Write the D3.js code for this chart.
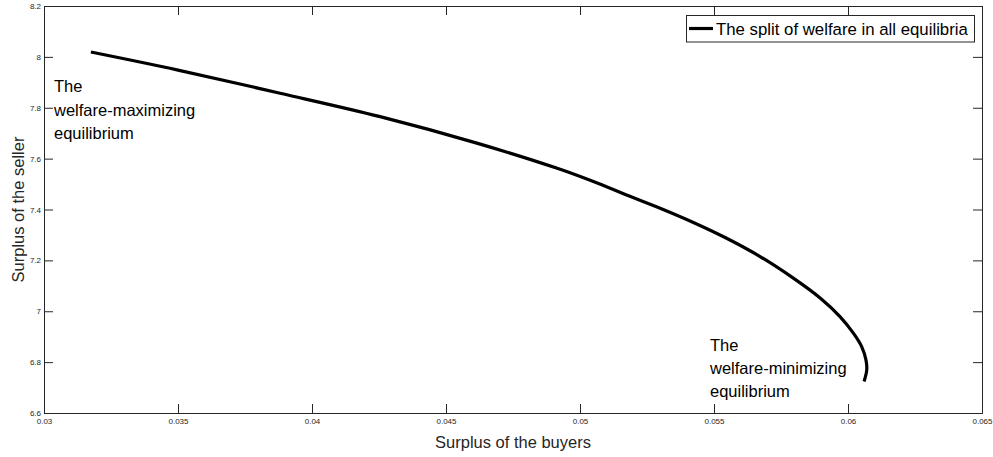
<!DOCTYPE html>
<html>
<head>
<meta charset="utf-8">
<script src="https://cdn.jsdelivr.net/npm/d3@7"></script>
<style>
  html, body { margin: 0; padding: 0; background: #fff; }
  svg { display: block; font-family: "Liberation Sans", Arial, Helvetica, sans-serif; }
</style>
</head>
<body>
<svg id="chart" width="993" height="457"></svg>
<script>
// Buyer surplus vs. seller surplus along the equilibrium set
const buyerSurplus = [0.03175, 0.0350, 0.03881, 0.04254, 0.04615, 0.04915, 0.05050, 0.05174,
                      0.05299, 0.05423, 0.05547, 0.05672, 0.05796, 0.05896, 0.05970, 0.06020,
                      0.06051, 0.06067, 0.06070, 0.06060];
const sellerSurplus = [8.019, 7.948, 7.857, 7.765, 7.661, 7.562, 7.510, 7.457,
                       7.405, 7.349, 7.287, 7.215, 7.130, 7.052, 6.979, 6.914,
                       6.861, 6.809, 6.770, 6.724];

const xTicks = [0.03, 0.035, 0.04, 0.045, 0.05, 0.055, 0.06, 0.065];
const yTicks = [6.6, 6.8, 7, 7.2, 7.4, 7.6, 7.8, 8, 8.2];

const seriesName = "The split of welfare in all equilibria";
const maxLabel = ["The", "welfare-maximizing", "equilibrium"];
const minLabel = ["The", "welfare-minimizing", "equilibrium"];
const xTitle = "Surplus of the buyers";
const yTitle = "Surplus of the seller";

const svg = d3.select("#chart");
const plotLeft = 44, plotRight = 982, plotTop = 6, plotBottom = 413;

const x = d3.scaleLinear().domain([0.03, 0.065]).range([plotLeft, plotRight]);
const y = d3.scaleLinear().domain([6.6, 8.2]).range([plotBottom, plotTop]);

const axisColor = "#262626";
const tickLen = 9;

function styleAxis(g) {
  g.selectAll(".domain").attr("stroke", axisColor).attr("stroke-width", 1);
  g.selectAll(".tick line").attr("stroke", axisColor).attr("stroke-width", 1);
  g.selectAll(".tick text").attr("fill", axisColor).attr("font-size", 8)
    .attr("font-family", "Liberation Sans, Arial, sans-serif");
}

// Bottom axis with inward ticks
svg.append("g").attr("transform", `translate(0,${plotBottom})`)
  .call(d3.axisBottom(x).tickValues(xTicks).tickSize(-tickLen).tickPadding(6)
        .tickFormat(d => String(+d.toFixed(3))))
  .call(styleAxis)
  .call(g => g.selectAll(".tick text").attr("dy", "0.9em").attr("y", 4));

// Top axis, ticks only
svg.append("g").attr("transform", `translate(0,${plotTop})`)
  .call(d3.axisTop(x).tickValues(xTicks).tickSize(-tickLen).tickFormat(""))
  .call(styleAxis);

// Left axis
svg.append("g").attr("transform", `translate(${plotLeft},0)`)
  .call(d3.axisLeft(y).tickValues(yTicks).tickSize(-tickLen).tickPadding(3)
        .tickFormat(d => String(+d.toFixed(1))))
  .call(styleAxis);

// Right axis, ticks only
svg.append("g").attr("transform", `translate(${plotRight},0)`)
  .call(d3.axisRight(y).tickValues(yTicks).tickSize(-tickLen).tickFormat(""))
  .call(styleAxis);

// Curve
const pts = buyerSurplus.map((b, i) => [b, sellerSurplus[i]]);
svg.append("path")
  .datum(pts)
  .attr("fill", "none")
  .attr("stroke", "#000")
  .attr("stroke-width", 3.2)
  .attr("stroke-linejoin", "round")
  .attr("d", d3.line().x(d => x(d[0])).y(d => y(d[1])).curve(d3.curveCatmullRom.alpha(0.5)));

// Annotations
function multiline(lines, px, py, lh) {
  const t = svg.append("text").attr("x", px).attr("y", py)
    .attr("font-size", 16.5).attr("fill", "#000");
  lines.forEach((s, i) => t.append("tspan").attr("x", px).attr("dy", i === 0 ? 0 : lh).text(s));
}
multiline(maxLabel, 54, 92, 23.5);
multiline(minLabel, 710, 351, 23);

// Legend
const lg = svg.append("g");
lg.append("rect").attr("x", 686.5).attr("y", 15.5).attr("width", 288).attr("height", 26.5)
  .attr("fill", "#fff").attr("stroke", axisColor).attr("stroke-width", 1);
lg.append("line").attr("x1", 689).attr("x2", 713).attr("y1", 28.5).attr("y2", 28.5)
  .attr("stroke", "#000").attr("stroke-width", 3.2);
lg.append("text").attr("x", 716).attr("y", 34.5).attr("font-size", 16.8).attr("fill", "#000")
  .text(seriesName);

// Axis titles
svg.append("text").attr("x", (plotLeft + plotRight) / 2).attr("y", 448)
  .attr("text-anchor", "middle").attr("font-size", 16.5).attr("fill", axisColor).text(xTitle);
svg.append("text").attr("transform", `translate(24,${(plotTop + plotBottom) / 2}) rotate(-90)`)
  .attr("text-anchor", "middle").attr("font-size", 16.5).attr("fill", axisColor).text(yTitle);
</script>
</body>
</html>
